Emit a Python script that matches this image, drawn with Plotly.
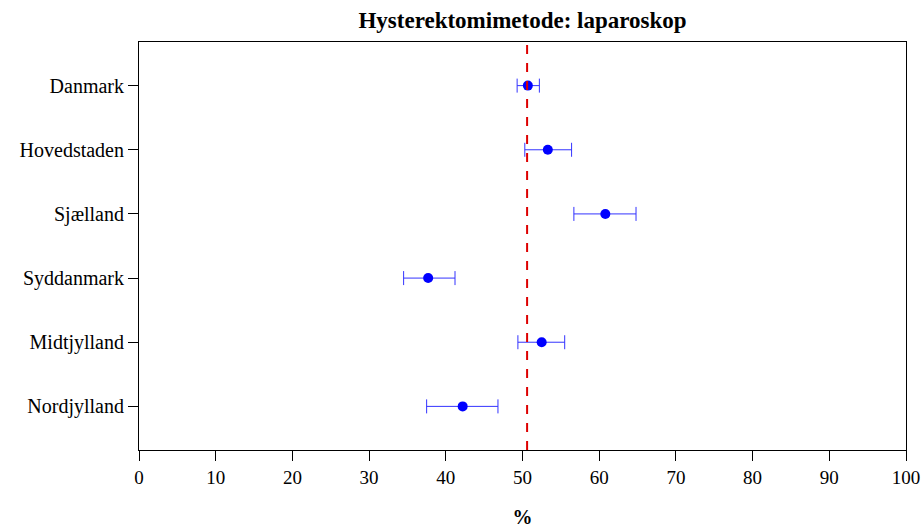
import plotly.graph_objects as go

regions = ["Danmark", "Hovedstaden", "Sjælland", "Syddanmark", "Midtjylland", "Nordjylland"]
estimate = [50.7, 53.3, 60.8, 37.7, 52.5, 42.2]
lower = [49.3, 50.3, 56.7, 34.5, 49.4, 37.5]
upper = [52.2, 56.4, 64.8, 41.2, 55.5, 46.8]
reference = 50.6
x_ticks = [0, 10, 20, 30, 40, 50, 60, 70, 80, 90, 100]

ypos = list(range(1, len(regions) + 1))

fig = go.Figure()
fig.add_trace(go.Scatter(
    x=estimate, y=ypos, mode="markers",
    marker=dict(color="#0000FF", size=10),
    error_x=dict(type="data", symmetric=False,
                 array=[u - e for u, e in zip(upper, estimate)],
                 arrayminus=[e - l for e, l in zip(estimate, lower)],
                 color="#3333FF", thickness=1, width=7),
    showlegend=False, hoverinfo="x+y",
))

fig.add_shape(type="line", x0=reference, x1=reference, y0=0, y1=1, yref="paper",
              line=dict(color="#DD0000", width=2, dash="dash"))

font_family = "Liberation Serif"
fig.update_layout(
    width=922, height=528,
    margin=dict(l=139, r=16, t=42, b=78, autoexpand=False),
    paper_bgcolor="white", plot_bgcolor="white",
    font=dict(family=font_family, size=18, color="black"),
    title=dict(text="<b>Hysterektomimetode: laparoskop</b>", x=0.5, xref="paper",
               y=0.962, yref="container", yanchor="middle",
               font=dict(family=font_family, size=23, color="black")),
    showlegend=False,
)
fig.update_xaxes(
    range=[0, 100], tickvals=x_ticks, ticktext=[str(v) for v in x_ticks],
    ticks="outside", ticklen=10, tickcolor="black", tickwidth=1,
    showline=True, linecolor="black", linewidth=1, mirror=True,
    showgrid=False, zeroline=False, automargin=False,
    tickfont=dict(family=font_family, size=19),
    title=dict(text="<b>%</b>", standoff=26, font=dict(family=font_family, size=20)),
)
fig.update_yaxes(
    range=[6.68, 0.32], tickvals=ypos, ticktext=regions,
    ticks="outside", ticklen=10, tickcolor="black", tickwidth=1,
    showline=True, linecolor="black", linewidth=1, mirror=True,
    showgrid=False, zeroline=False, automargin=False,
    tickfont=dict(family=font_family, size=20),
)

fig.write_html("out.html")
